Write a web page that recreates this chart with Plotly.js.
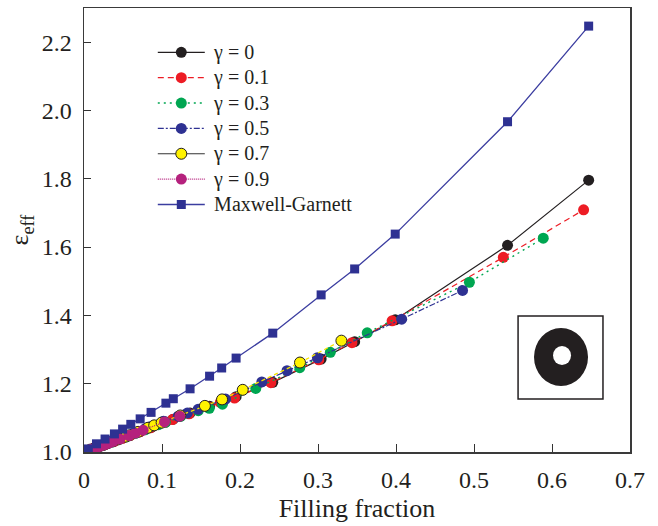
<!DOCTYPE html>
<html>
<head>
<meta charset="utf-8">
<script src="https://cdn.plot.ly/plotly-3.0.1.min.js"></script>
<style>html,body{margin:0;padding:0;background:#fff;}#chart{width:658px;height:526px;}</style>
</head>
<body>
<div id="chart"></div>
<script>
// gamma = 0
const x_g0 = [0.0055,0.016,0.027,0.039,0.0495,0.06,0.072,0.086,0.105,0.1145,0.136,0.161,0.1765,0.195,0.242,0.304,0.347,0.399,0.543,0.647];
const y_g0 = [1.004,1.013,1.022,1.032,1.041,1.050,1.060,1.072,1.088,1.096,1.114,1.134,1.147,1.162,1.204,1.272,1.323,1.387,1.605,1.796];
// gamma = 0.1
const x_g01 = [0.0054,0.0158,0.0267,0.0386,0.049,0.0594,0.0713,0.0851,0.104,0.1134,0.1346,0.1594,0.1747,0.193,0.2396,0.301,0.3435,0.395,0.5376,0.6405];
const y_g01 = [1.004,1.013,1.022,1.031,1.040,1.049,1.059,1.071,1.087,1.095,1.112,1.132,1.145,1.158,1.203,1.270,1.320,1.384,1.570,1.709];
// gamma = 0.3
const x_g03 = [0.005,0.0146,0.0246,0.0355,0.045,0.0546,0.0655,0.0783,0.0956,0.1042,0.1238,0.1465,0.1606,0.1775,0.2202,0.2766,0.3158,0.3631,0.4941,0.5888];
const y_g03 = [1.004,1.012,1.020,1.029,1.037,1.045,1.054,1.065,1.080,1.087,1.104,1.121,1.128,1.140,1.186,1.247,1.292,1.349,1.497,1.626];
// gamma = 0.5
const x_g05 = [0.0041,0.012,0.0203,0.0293,0.0371,0.045,0.054,0.0645,0.0788,0.0859,0.102,0.1208,0.1324,0.1463,0.1815,0.228,0.2603,0.2993,0.4073,0.4853];
const y_g05 = [1.003,1.010,1.017,1.025,1.032,1.039,1.047,1.056,1.069,1.075,1.090,1.105,1.114,1.125,1.155,1.205,1.238,1.276,1.389,1.473];
// gamma = 0.7
const x_g07 = [0.0028,0.0082,0.0138,0.0199,0.0252,0.0306,0.0367,0.0439,0.0536,0.0584,0.0694,0.0821,0.09,0.0995,0.1234,0.155,0.177,0.2035,0.2769,0.33];
const y_g07 = [1.002,1.007,1.012,1.017,1.021,1.026,1.031,1.037,1.045,1.049,1.059,1.071,1.078,1.086,1.107,1.135,1.154,1.182,1.262,1.326];
// gamma = 0.9
const x_g09 = [0.001,0.003,0.0051,0.0074,0.0094,0.0114,0.0137,0.0163,0.02,0.0218,0.0258,0.0306,0.0335,0.0371,0.046,0.0578,0.0659,0.0758,0.1032,0.1229];
const y_g09 = [1.001,1.002,1.004,1.006,1.008,1.009,1.011,1.013,1.017,1.018,1.021,1.025,1.028,1.031,1.038,1.048,1.055,1.064,1.088,1.105];
// Maxwell-Garnett
const x_mg = [0.0055,0.016,0.027,0.039,0.0495,0.06,0.072,0.086,0.105,0.1145,0.136,0.161,0.1765,0.195,0.242,0.304,0.347,0.399,0.543,0.647];
const y_mg = [1.009,1.024,1.038,1.053,1.067,1.081,1.097,1.116,1.143,1.156,1.185,1.222,1.246,1.275,1.348,1.460,1.536,1.638,1.967,2.247];

const seriesNames = ["γ = 0","γ = 0.1","γ = 0.3","γ = 0.5","γ = 0.7","γ = 0.9","Maxwell-Garnett"];
const xTicks = [0,0.1,0.2,0.3,0.4,0.5,0.6,0.7];
const yTicks = [1.0,1.2,1.4,1.6,1.8,2.0,2.2];

const lg = n => '\u00a0<span style="font-size:20px">' + n + '</span>';
const MS = 11;
const traces = [
  {x:x_g0,y:y_g0,name:lg(seriesNames[0]),mode:'lines+markers',line:{color:'#231f20',width:1.2},marker:{color:'#231f20',size:MS,line:{width:0}}},
  {x:x_g01,y:y_g01,name:lg(seriesNames[1]),mode:'lines+markers',line:{color:'#ed1c24',width:1.2,dash:'6px,4px'},marker:{color:'#ed1c24',size:MS,line:{width:0}}},
  {x:x_g03,y:y_g03,name:lg(seriesNames[2]),mode:'lines+markers',line:{color:'#00a651',width:1.4,dash:'2px,4px'},marker:{color:'#00a651',size:MS,line:{width:0}}},
  {x:x_g05,y:y_g05,name:lg(seriesNames[3]),mode:'lines+markers',line:{color:'#2e3192',width:1.2,dash:'6px,2px,2px,2px'},marker:{color:'#2e3192',size:MS,line:{width:0}}},
  {x:[null],y:[null],name:lg(seriesNames[4]),mode:'lines+markers',line:{color:'#333333',width:1.2},marker:{color:'#fff200',size:MS,line:{width:1,color:'#231f20'}}},
  {x:x_g07,y:y_g07,name:seriesNames[4],showlegend:false,mode:'lines+markers',line:{color:'#f5e400',width:1.3,dash:'4px,3px'},marker:{color:'#fff200',size:MS,line:{width:1,color:'#231f20'}}},
  {x:x_g09,y:y_g09,name:lg(seriesNames[5]),mode:'lines+markers',line:{color:'#b5217d',width:1.2,dash:'1px,1px'},marker:{color:'#b5217d',size:MS,line:{width:0}}},
  {x:x_mg,y:y_mg,name:lg(seriesNames[6]),mode:'lines+markers',line:{color:'#3b3da0',width:1.3},marker:{color:'#2e3192',size:9,symbol:'square',line:{width:0}}}
];

const fontFam = '"Liberation Serif", "Times New Roman", serif';
const layout = {
  width:658,height:526,
  margin:{l:84,r:28,t:8,b:74},
  paper_bgcolor:'#ffffff',plot_bgcolor:'#ffffff',
  font:{family:fontFam,color:'#231f20',size:24},
  showlegend:true,
  legend:{x:0.126,y:0.94,xanchor:'left',yanchor:'top',bgcolor:'rgba(0,0,0,0)',borderwidth:0,
          font:{family:fontFam,size:17.2,color:'#231f20'},itemwidth:47,tracegroupgap:0},
  xaxis:{range:[0,0.7],tickvals:xTicks,ticktext:xTicks.map(v=>v===0?'0':String(v)),
         ticks:'inside',ticklen:8,tickwidth:1,tickcolor:'#333',showline:true,linecolor:'#3a3a3a',linewidth:1.5,mirror:true,
         showgrid:false,zeroline:false,ticklabelstandoff:6,
         title:{text:'Filling fraction',font:{family:fontFam,size:26,color:'#231f20'},standoff:6}},
  yaxis:{range:[1.0,2.3],tickvals:yTicks,ticktext:yTicks.map(v=>v.toFixed(1)),
         ticks:'inside',ticklen:7,tickwidth:1,tickcolor:'#333',showline:true,linecolor:'#3a3a3a',linewidth:1.5,mirror:true,
         showgrid:false,zeroline:false,ticklabelstandoff:6,
         title:{text:'ε<sub>eff</sub>',font:{family:fontFam,size:26,color:'#231f20'},standoff:5}},
  shapes:[
    {type:'rect',xref:'paper',yref:'paper',x0:0.795,x1:0.9505,y0:0.1194,y1:0.3063,line:{color:'#231f20',width:1.5},fillcolor:'#ffffff',layer:'above'},
    {type:'circle',xref:'paper',yref:'paper',x0:0.8242,x1:0.9231,y0:0.1486,y1:0.2793,line:{width:0},fillcolor:'#231f20',layer:'above'},
    {type:'circle',xref:'paper',yref:'paper',x0:0.859,x1:0.892,y0:0.196,y1:0.2387,line:{width:0},fillcolor:'#ffffff',layer:'above'}
  ]
};
Plotly.newPlot('chart',traces,layout,{displayModeBar:false,staticPlot:true});
</script>
</body>
</html>
